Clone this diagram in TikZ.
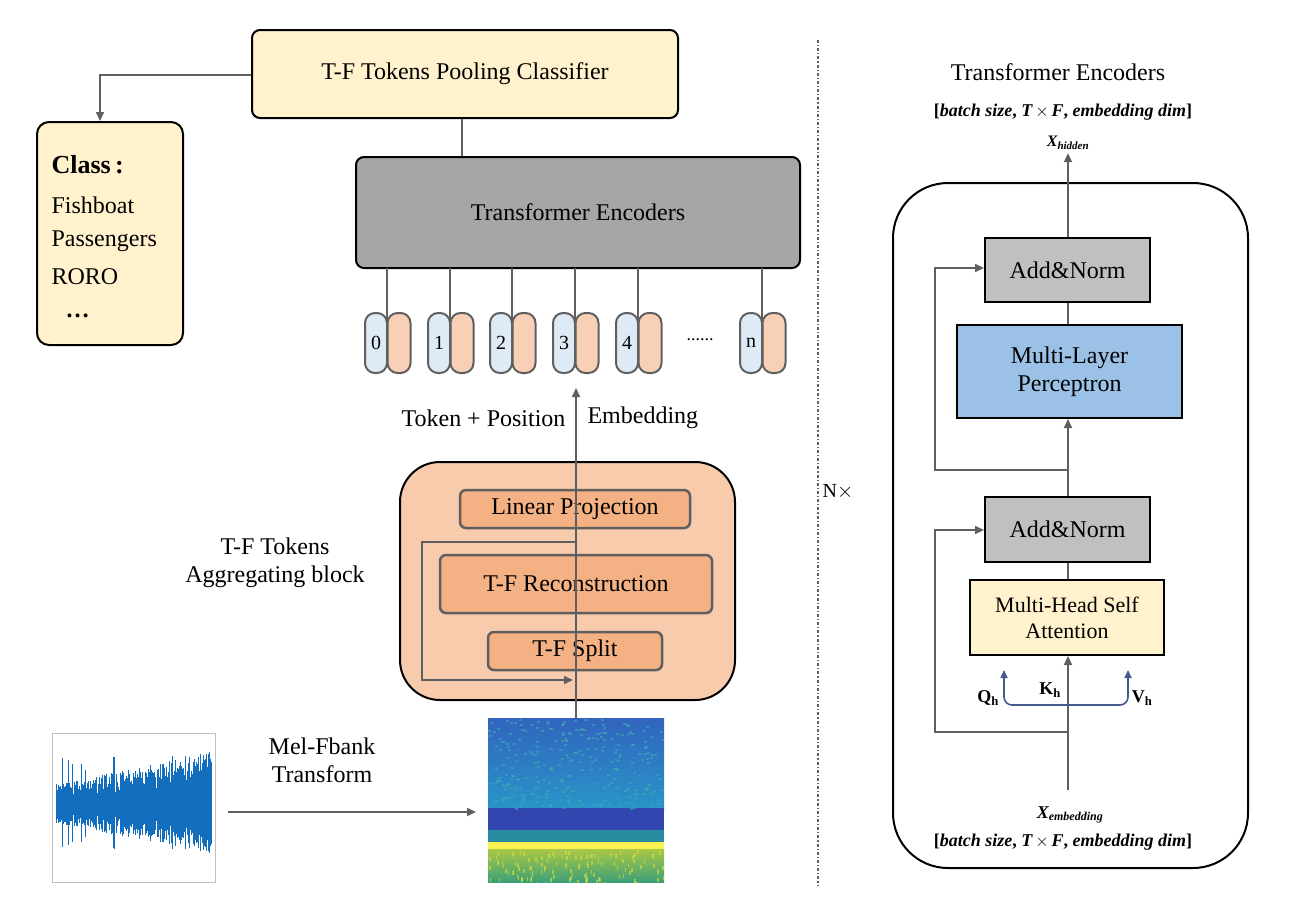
\documentclass[tikz,border=0pt]{standalone}
\usepackage{fontspec}
\setmainfont{Liberation Serif}
\usetikzlibrary{arrows.meta}
\definecolor{cream}{RGB}{255,242,204}
\definecolor{peach}{RGB}{248,203,173}
\definecolor{salmon}{RGB}{244,177,131}
\definecolor{lgray}{RGB}{192,192,192}
\definecolor{mgray}{RGB}{166,166,166}
\definecolor{lnc}{RGB}{95,95,95}
\definecolor{mlp}{RGB}{155,194,230}
\definecolor{tokb}{RGB}{222,235,247}
\definecolor{qv}{RGB}{68,90,140}
\definecolor{wave}{RGB}{20,110,190}
\definecolor{spA}{RGB}{50,100,190}
\definecolor{spB}{RGB}{40,150,200}
\definecolor{spC}{RGB}{50,70,175}
\definecolor{spD}{RGB}{40,140,160}
\definecolor{spE}{RGB}{250,240,80}
\definecolor{spF}{RGB}{170,200,70}
\definecolor{spG}{RGB}{60,160,120}
\definecolor{spH}{RGB}{60,170,180}
\definecolor{spI}{RGB}{220,220,60}
\begin{document}
\begin{tikzpicture}[x=1pt,y=-1pt,
  conn/.style={draw=lnc,line width=1.6pt},
  arr/.style={conn,-{Triangle[length=9pt,width=8pt]}},
  blk/.style={draw=black,line width=2pt,rounded corners=8pt},
  inner/.style={draw=lnc,line width=2.5pt,rounded corners=6pt,fill=salmon},
  sq/.style={draw=black,line width=2pt},
  tok/.style={draw=lnc,line width=2pt,rounded corners=10pt},
  txt/.style={font=\fontsize{24}{28}\selectfont,align=center},
  btxt/.style={font=\fontsize{18}{22}\selectfont\bfseries\itshape}]
\useasboundingbox (0,0) rectangle (1306,908);
% left top
\node[blk,fill=cream,minimum width=426pt,minimum height=88pt,txt] (pool) at (465,74) {T-F Tokens Pooling Classifier};
\node[blk,fill=cream,minimum width=146pt,minimum height=223pt,rounded corners=12pt] (cls) at (110,233.5) {};
\node[anchor=west,font=\fontsize{26}{28}\selectfont\bfseries] at (48,165) {Class\,:};
\node[anchor=west,txt] (c1) at (48,205) {Fishboat};
\node[anchor=west,txt] (c2) at (48,241) {Passengers};
\node[anchor=west,txt] (c3) at (48,277) {RORO};
\node[anchor=west,font=\fontsize{24}{28}\selectfont\bfseries] at (62,316) {\ldots};
\coordinate (pc) at (100,75);
\draw[arr] (pool.west |- 0,75) -- (pc) -- (cls.north -| pc);
\node[blk,fill=mgray,minimum width=444pt,minimum height=111pt,txt] (enc) at (578,212.5) {Transformer Encoders};
\draw[conn] (enc.north -| 462,0) -- (pool.south -| 462,0);
% tokens
\foreach \n/\xb/\lab in {t0/376/0,t1/439/1,t2/501/2,t3/564/3,t4/627/4,tn/751/n}{
  \node[tok,fill=salmon!60,minimum width=23pt,minimum height=60pt] (\n o) at (\xb+23,343) {};
  \node[tok,fill=tokb,minimum width=22pt,minimum height=60pt,font=\fontsize{20}{22}\selectfont,inner sep=0pt] (\n) at (\xb,343) {\lab};
  \draw[conn] (\xb+11,268) -- (\xb+11,323);
}
\node[font=\fontsize{18}{20}\selectfont] at (700,340) {......};
% aggregating block
\node[blk,fill=peach,rounded corners=40pt,minimum width=335pt,minimum height=238pt] (agg) at (567.5,581) {};
\node[inner,minimum width=230pt,minimum height=38pt,txt,inner sep=0pt] (lp) at (575,509) {Linear Projection};
\node[inner,minimum width=272pt,minimum height=58pt,txt] (rec) at (576,584) {T-F Reconstruction};
\node[inner,minimum width=174pt,minimum height=38pt,txt,inner sep=0pt] (spl) at (575,651) {T-F Split};
\draw[conn] (lp.south -| 576,0) -- (rec.north -| 576,0);
\draw[conn] (rec.south -| 576,0) -- (spl.north -| 576,0);
\coordinate (sk1) at (422,542);
\coordinate (sk2) at (422,680);
\draw[arr] (576,542) -- (sk1) -- (sk2) -- (573,680);
\node[txt] at (275,563) {T-F Tokens\\Aggregating block};
% spectrogram
\begin{scope}
\clip (488,718) rectangle (664,882);
\shade[top color=spA,bottom color=spB] (488,718) rectangle (664,810);
\fill[spC] (488,808) rectangle (664,830);
\fill[spD] (488,830) rectangle (664,842);
\fill[spE] (488,842) rectangle (664,849);
\shade[top color=spF,bottom color=spG] (488,849) rectangle (664,882);
\pgfmathsetseed{7}
\foreach \i in {1,...,260}{
  \pgfmathsetmacro{\xx}{488+rnd*176}\pgfmathsetmacro{\yy}{718+rnd*90}
  \fill[spH,opacity=0.6] (\xx,\yy) rectangle ++(3,2);
}
\foreach \i in {1,...,120}{
  \pgfmathsetmacro{\xx}{488+rnd*176}\pgfmathsetmacro{\yy}{850+rnd*32}
  \fill[spI,opacity=0.6] (\xx,\yy) rectangle ++(1.5,4);
}
\end{scope}
\coordinate (spec) at (576,718);
\draw[arr] (spec) -- (576,388);
\node[txt,anchor=east] at (569,418) {Token + Position};
\node[txt,anchor=west] at (584,418) {Embedding};
% waveform
\draw[draw=lightgray,line width=0.6pt] (52,733) rectangle (215,882);
\pgfmathsetseed{3}
\foreach \i in {0,...,310}{
  \pgfmathsetmacro{\aa}{(14+\i*0.07)*(0.5+rnd)+(rnd>0.96)*25}
  \draw[wave,line width=0.6pt] (56+\i*0.5,805-\aa) -- (56+\i*0.5,805+\aa*0.9);
}
\node[txt] at (322,760) {Mel-Fbank\\Transform};
\coordinate (wv) at (228,812);
\draw[arr] (wv) -- (476,812);
% separator
\draw[lnc,line width=1.2pt,dash dot] (818,40) -- (818,885);
\node[font=\fontsize{20}{22}\selectfont] at (838,492) {N$\times$};
% right
\node[txt] at (1058,72) {Transformer Encoders};
\node[btxt] at (1063,112) {\upshape[\itshape batch size\upshape, \itshape T\,$\times$\,F\upshape, \itshape embedding dim\upshape]};
\node[font=\fontsize{16}{18}\selectfont\bfseries\itshape] (xh) at (1068,143) {X\textsubscript{\fontsize{11}{12}\selectfont hidden}};
\node[blk,rounded corners=55pt,minimum width=355pt,minimum height=685pt] (big) at (1070.5,525.5) {};
\node[sq,fill=lgray,minimum width=165pt,minimum height=64pt,txt] (an1) at (1067.5,270) {Add\&Norm};
\node[sq,fill=mlp,minimum width=225pt,minimum height=93pt,txt] (mlpn) at (1069.5,371.5) {Multi-Layer\\Perceptron};
\node[sq,fill=lgray,minimum width=165pt,minimum height=65pt,txt] (an2) at (1067.5,529.5) {Add\&Norm};
\node[sq,fill=cream,minimum width=194pt,minimum height=75pt,font=\fontsize{22}{26}\selectfont,align=center] (mh) at (1067,617.5) {Multi-Head Self\\Attention};
\draw[arr] (an1.north -| 1068,0) -- (xh.south -| 1068,0);
\draw[conn] (an1.south -| 1068,0) -- (mlpn.north -| 1068,0);
\draw[arr] (an2.north -| 1068,0) -- (mlpn.south -| 1068,0);
\draw[conn] (an2.south -| 1068,0) -- (mh.north -| 1068,0);
\coordinate (s1a) at (935,470); \coordinate (s1b) at (935,268);
\draw[arr] (1068,470) -- (s1a) -- (s1b) -- (an1.west |- 0,268);
\coordinate (s2a) at (935,732); \coordinate (s2b) at (935,530);
\draw[arr] (1068,732) -- (s2a) -- (s2b) -- (an2.west |- 0,530);
\coordinate (xin) at (1068,790);
\draw[arr] (xin) -- (mh.south -| 1068,0);
\draw[qv,line width=1.6pt,rounded corners=8pt,{Triangle[length=8pt,width=7pt]}-{Triangle[length=8pt,width=7pt]}] (1004,670) -- (1004,705) -- (1128,705) -- (1128,670);
\node[font=\fontsize{18}{20}\selectfont\bfseries] at (988,698) {Q\textsubscript{h}};
\node[font=\fontsize{18}{20}\selectfont\bfseries] at (1050,690) {K\textsubscript{h}};
\node[font=\fontsize{18}{20}\selectfont\bfseries] at (1142,698) {V\textsubscript{h}};
\node[font=\fontsize{18}{20}\selectfont\bfseries\itshape] at (1070,815) {X\textsubscript{\fontsize{12}{12}\selectfont embedding}};
\node[btxt] at (1063,842) {\upshape[\itshape batch size\upshape, \itshape T\,$\times$\,F\upshape, \itshape embedding dim\upshape]};
\end{tikzpicture}
\end{document}
